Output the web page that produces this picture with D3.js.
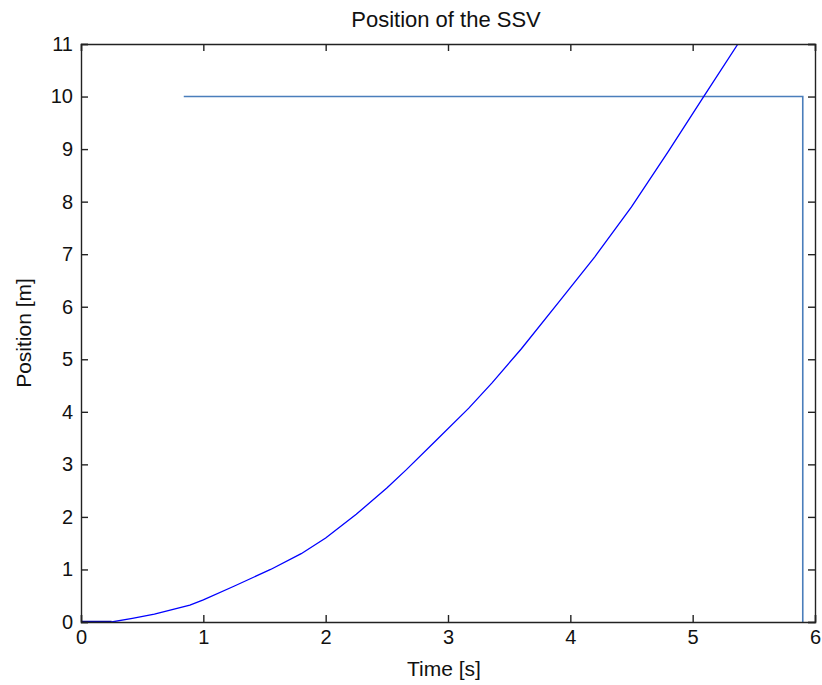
<!DOCTYPE html>
<html>
<head>
<meta charset="utf-8">
<script src="https://cdn.jsdelivr.net/npm/d3@7"></script>
<style>
body{margin:0;background:#fff;}
text{font-family:"Liberation Sans",Arial,sans-serif;fill:#111;}
</style>
</head>
<body>
<svg id="chart" width="822" height="685"></svg>
<script>
// position curve
const time=[0,0.25,0.42,0.6,0.89,1.0,1.25,1.55,1.8,2.0,2.25,2.5,2.66,2.9,3.17,3.36,3.6,3.92,4.2,4.5,4.8,5.09,5.37,5.45]
const pos=[0,0,0.07,0.15,0.32,0.42,0.68,1.0,1.3,1.6,2.05,2.55,2.9,3.45,4.07,4.55,5.2,6.13,6.95,7.9,8.95,10.0,11.0,11.25]
// flat start (drawn darker)
const stallT=[0,0.25]
const stallP=[0,0]
// target box
const boxT=[0.84,5.9,5.9]
const boxP=[10,10,0]
const xTicks=[0,1,2,3,4,5,6]
const yTicks=[0,1,2,3,4,5,6,7,8,9,10,11]

const mL=81,mR=815,mT=44,mB=622
const svg=d3.select("#chart")
const x=d3.scaleLinear().domain([0,6]).range([mL,mR])
const y=d3.scaleLinear().domain([0,11]).range([mB,mT])

svg.append("clipPath").attr("id","clip")
  .append("rect").attr("x",mL).attr("y",mT).attr("width",mR-mL).attr("height",mB-mT)

const g=svg.append("g").attr("clip-path","url(#clip)")
const line=d3.line().x(d=>x(d[0])).y(d=>y(d[1]))

g.append("path").datum(d3.zip(boxT,boxP))
  .attr("d",line).attr("fill","none").attr("stroke","#4a7ebb").attr("stroke-width",1.6)
g.append("path").datum(d3.zip(time,pos))
  .attr("d",line).attr("fill","none").attr("stroke","#0000ff").attr("stroke-width",1.3)
g.append("path").datum(d3.zip(stallT,stallP))
  .attr("d",line).attr("fill","none").attr("stroke","#0000b0").attr("stroke-width",2.5)

// axes, ticks inward on all four sides
const tk=7
const ax=svg.append("g").attr("transform",`translate(0,${mB})`)
  .call(d3.axisBottom(x).tickValues(xTicks).tickSize(-tk).tickPadding(tk+13).tickFormat(d3.format("d")))
const axT=svg.append("g").attr("transform",`translate(0,${mT})`)
  .call(d3.axisTop(x).tickValues(xTicks).tickSize(-tk).tickFormat(""))
const ay=svg.append("g").attr("transform",`translate(${mL},0)`)
  .call(d3.axisLeft(y).tickValues(yTicks).tickSize(-tk).tickPadding(8).tickFormat(d3.format("d")))
const ayR=svg.append("g").attr("transform",`translate(${mR},0)`)
  .call(d3.axisRight(y).tickValues(yTicks).tickSize(-tk).tickFormat(""))

svg.selectAll(".domain").attr("stroke","#222").attr("stroke-width",1.4)
svg.selectAll(".tick line").attr("stroke","#222").attr("stroke-width",1.4)
svg.selectAll(".tick text").attr("font-size",20).attr("font-family","Liberation Sans, Arial, sans-serif").attr("fill","#111")
ax.selectAll(".tick text").attr("dy","0.1em")

svg.append("text").attr("x",446).attr("y",27).attr("text-anchor","middle")
  .attr("font-size",22).text("Position of the SSV")
svg.append("text").attr("x",444).attr("y",676).attr("text-anchor","middle")
  .attr("font-size",21).text("Time [s]")
svg.append("text").attr("transform",`translate(31,${(mT+mB)/2}) rotate(-90)`)
  .attr("text-anchor","middle").attr("font-size",21).text("Position [m]")
</script>
</body>
</html>
